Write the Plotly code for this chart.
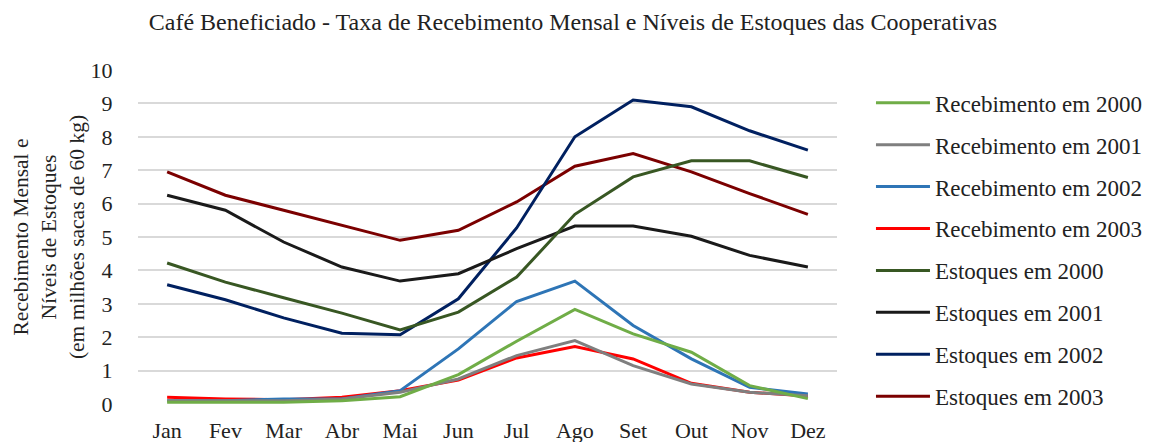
import plotly.graph_objects as go

months = ["Jan", "Fev", "Mar", "Abr", "Mai", "Jun", "Jul", "Ago", "Set", "Out", "Nov", "Dez"]

receb_2000 = [0.05, 0.05, 0.05, 0.10, 0.22, 0.88, 1.88, 2.83, 2.10, 1.55, 0.55, 0.16]
receb_2001 = [0.10, 0.10, 0.10, 0.15, 0.35, 0.75, 1.45, 1.90, 1.15, 0.60, 0.35, 0.25]
receb_2002 = [0.10, 0.10, 0.15, 0.15, 0.40, 1.65, 3.07, 3.68, 2.35, 1.35, 0.50, 0.30]
receb_2003 = [0.20, 0.15, 0.13, 0.20, 0.40, 0.72, 1.38, 1.72, 1.35, 0.62, 0.35, 0.24]
estoq_2000 = [4.22, 3.65, 3.18, 2.72, 2.22, 2.75, 3.80, 5.68, 6.80, 7.28, 7.28, 6.78]
estoq_2001 = [6.25, 5.80, 4.85, 4.10, 3.68, 3.90, 4.65, 5.33, 5.33, 5.02, 4.45, 4.10]
estoq_2002 = [3.57, 3.12, 2.58, 2.12, 2.07, 3.15, 5.27, 8.00, 9.10, 8.90, 8.18, 7.60]
estoq_2003 = [6.95, 6.25, 5.80, 5.35, 4.90, 5.20, 6.05, 7.12, 7.50, 6.95, 6.30, 5.68]

series = [
    ("Recebimento em 2000", receb_2000, "#70AD47", "legend"),
    ("Recebimento em 2001", receb_2001, "#7F7F7F", "legend"),
    ("Recebimento em 2002", receb_2002, "#2E75B6", "legend"),
    ("Recebimento em 2003", receb_2003, "#FF0000", "legend"),
    ("Estoques em 2000", estoq_2000, "#385723", "legend2"),
    ("Estoques em 2001", estoq_2001, "#1A1A1A", "legend2"),
    ("Estoques em 2002", estoq_2002, "#002060", "legend2"),
    ("Estoques em 2003", estoq_2003, "#7B0000", "legend2"),
]

FONT = "Liberation Serif"

fig = go.Figure()
traces = []
for i, (name, vals, color, leg) in enumerate(series):
    traces.append(go.Scatter(x=months, y=vals, name=name, mode="lines",
                             line=dict(color=color, width=3), legendgroup=f"g{i}",
                             legend=leg, legendrank=i + 1))
for t in reversed(traces):
    fig.add_trace(t)

legend_common = dict(font=dict(family=FONT, size=23, color="#222222"),
                     itemwidth=54, traceorder="grouped", tracegroupgap=9,
                     bgcolor="rgba(0,0,0,0)", xanchor="left", yanchor="top", x=1.0486)

# page body has an 8px default margin; figure is sized so the page fits the window
fig.update_layout(
    width=1145, height=434,
    margin=dict(l=130, r=316, t=62, b=38, autoexpand=False),
    paper_bgcolor="white", plot_bgcolor="white",
    font=dict(family=FONT, size=22, color="#222222"),
    title=dict(text="Café Beneficiado - Taxa de Recebimento Mensal e Níveis de Estoques das Cooperativas",
               x=0.4934, xanchor="center", y=0.968, yanchor="middle",
               font=dict(family=FONT, size=24, color="#222222")),
    legend=dict(y=0.966, **legend_common),
    legend2=dict(y=0.464, **legend_common),
    xaxis=dict(type="category", range=[-0.5, 11.5], showgrid=False, showline=False,
               ticks="outside", ticklen=7, tickcolor="rgba(0,0,0,0)",
               tickfont=dict(family=FONT, size=22)),
    yaxis=dict(range=[0, 10], dtick=1, showgrid=True, gridcolor="#D9D9D9", gridwidth=2,
               zeroline=False, showline=False,
               ticks="outside", ticklen=20, tickcolor="rgba(0,0,0,0)",
               tickfont=dict(family=FONT, size=22),
               title=dict(text="Recebimento Mensal e<br>Níveis de Estoques<br>(em milhões sacas de 60 kg)",
                          font=dict(family=FONT, size=21.5), standoff=0)),
)

fig.write_html("out.html")
